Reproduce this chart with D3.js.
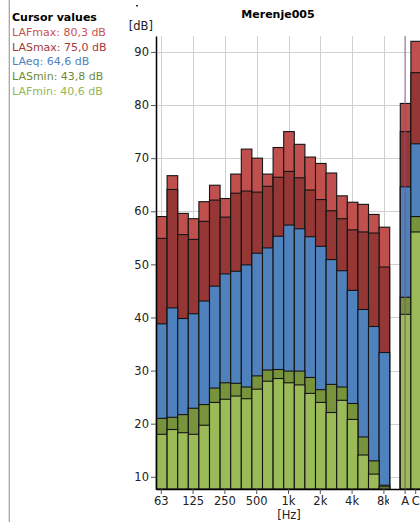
<!DOCTYPE html>
<html>
<head>
<meta charset="utf-8">
<script src="https://cdn.jsdelivr.net/npm/d3@7"></script>
<style>
  html, body { margin: 0; padding: 0; background: #fff; }
  svg { display: block; font-family: "DejaVu Sans", Verdana, sans-serif; }
</style>
</head>
<body>
<svg id="chart" width="420" height="522"></svg>
<script>
// Third-octave bands, then a spacer column and the A / C broadband levels
const bands = ["63","80","100","125","160","200","250","315","400","500","630","800",
               "1k","1.25k","1.6k","2k","2.5k","3.15k","4k","5k","6.3k","8k"];
const broadband = ["A", "C"];
const tickBands = ["63","125","250","500","1k","2k","4k","8k"];
const yTicks = [10, 20, 30, 40, 50, 60, 70, 80, 90];

// Levels in dB per band
const lafmax = [59.0,66.7,59.6,58.6,61.8,64.9,62.4,67.0,71.7,70.0,67.0,72.0,75.0,72.6,70.2,69.0,67.2,62.9,61.7,61.3,59.4,57.0];
const lasmax = [54.9,64.1,55.6,54.7,58.1,62.1,58.9,63.4,63.8,63.6,64.7,66.4,67.5,66.3,64.0,62.2,60.1,58.6,56.5,56.1,55.9,49.5];
const laeq   = [38.8,41.8,39.8,40.7,43.1,45.9,48.2,48.7,49.9,52.1,53.1,55.3,57.4,56.7,55.2,53.4,50.9,48.8,45.1,41.5,38.3,33.4];
const lasmin = [21.0,21.2,21.7,22.9,23.6,26.7,27.7,27.6,26.9,29.0,30.1,30.2,29.9,29.9,28.7,26.4,27.4,26.9,23.8,17.5,13.0,8.4];
const lafmin = [18.0,18.9,18.3,18.0,19.7,24.0,24.6,25.2,24.7,26.5,28.0,28.5,27.7,27.3,25.7,24.0,22.1,24.4,20.8,14.1,10.5,8.1];

// Broadband levels: A, C
const lafmaxBB = [80.3, 92.0];
const lasmaxBB = [75.0, 86.1];
const laeqBB   = [64.6, 72.7];
const lasminBB = [43.8, 59.0];
const lafminBB = [40.6, 56.1];

const seriesNames = ["LAFmax", "LASmax", "LAeq", "LASmin", "LAFmin"];
const seriesColors = ["#c0504d", "#953735", "#4f81bd", "#77933c", "#9bbb59"];
const textColors   = ["#c9514f", "#a33a38", "#4f81bd", "#6f8a38", "#93b755"];
const seriesBands = [lafmax, lasmax, laeq, lasmin, lafmin];
const seriesBB = [lafmaxBB, lasmaxBB, laeqBB, lasminBB, lafminBB];
const cursorBand = "A";

const svg = d3.select("#chart");

const plotLeft = 156, plotRight = 421, plotTop = 36, plotBottom = 489;
const bandAreaRight = 389;
const yMin = 7.7, yMax = 93;

const x = d3.scaleBand()
  .domain([...bands, " ", ...broadband])
  .range([plotLeft, plotRight])
  .padding(0);
const y = d3.scaleLinear().domain([yMin, yMax]).range([plotBottom, plotTop]);

// Grid
const grid = svg.append("g").attr("stroke", "#cfcfcf").attr("stroke-width", 1);
grid.selectAll("line.h").data(yTicks).join("line").attr("class", "h")
  .attr("x1", plotLeft).attr("x2", plotRight)
  .attr("y1", d => Math.round(y(d)) + 0.5).attr("y2", d => Math.round(y(d)) + 0.5);
grid.selectAll("line.v").data(tickBands).join("line").attr("class", "v")
  .attr("y1", plotTop).attr("y2", plotBottom)
  .attr("x1", d => Math.round(x(d) + x.bandwidth() / 2) + 0.5)
  .attr("x2", d => Math.round(x(d) + x.bandwidth() / 2) + 0.5);

// Bars: each level drawn from the floor, largest first
const bars = svg.append("g");
seriesNames.forEach((name, i) => {
  const rows = bands.map((b, j) => ({ band: b, v: seriesBands[i][j] }))
    .concat(broadband.map((b, j) => ({ band: b, v: seriesBB[i][j] })));
  bars.append("g")
    .attr("fill", seriesColors[i])
    .attr("stroke", "#141414")
    .attr("stroke-width", 1.1)
    .selectAll("rect").data(rows).join("rect")
    .attr("x", d => x(d.band) + 0.5)
    .attr("width", x.bandwidth())
    .attr("y", d => y(d.v))
    .attr("height", d => y(yMin) - y(d.v));
});

// Cursor line
svg.append("line")
  .attr("x1", x(cursorBand) + x.bandwidth() / 2).attr("x2", x(cursorBand) + x.bandwidth() / 2)
  .attr("y1", plotTop).attr("y2", plotBottom)
  .attr("stroke", "#8a4f86").attr("stroke-width", 1);

// Axes
const yAxis = svg.append("g")
  .attr("transform", `translate(${plotLeft},0)`)
  .call(d3.axisLeft(y).tickValues(yTicks).tickSize(5).tickSizeOuter(0).tickPadding(2));
yAxis.select(".domain").attr("stroke", "#000").attr("stroke-width", 1.5);
yAxis.selectAll(".tick line").attr("stroke", "#555");
yAxis.selectAll(".tick text").attr("font-size", 11.5).attr("fill", "#222")
  .attr("font-family", "DejaVu Sans, sans-serif");

const xAxis = svg.append("g")
  .attr("transform", `translate(0,${plotBottom})`)
  .call(d3.axisBottom(x).tickValues([...tickBands, ...broadband]).tickSize(5).tickSizeOuter(0).tickPadding(3));
xAxis.select(".domain").attr("stroke", "#000").attr("stroke-width", 1.5);
xAxis.selectAll(".tick line").attr("stroke", "#555");
xAxis.selectAll(".tick text").attr("font-size", 11.5).attr("fill", "#222")
  .attr("font-family", "DejaVu Sans, sans-serif");

// Band labels stay inside the band area
const defs = svg.append("defs");
xAxis.selectAll(".tick").filter(d => bands.includes(d)).each(function (d, k) {
  const tx = x(d) + x.bandwidth() / 2;
  const id = "bandclip" + k;
  defs.append("clipPath").attr("id", id)
    .append("rect").attr("x", -60).attr("y", -10).attr("width", bandAreaRight - tx + 60).attr("height", 40);
  d3.select(this).select("text").attr("clip-path", `url(#${id})`);
});

// Axis titles
svg.append("text").attr("x", 153).attr("y", 30).attr("text-anchor", "end")
  .attr("font-size", 11.5).attr("fill", "#222").text("[dB]");
svg.append("text").attr("x", 289).attr("y", 518.5).attr("text-anchor", "middle")
  .attr("font-size", 11.5).attr("fill", "#222").text("[Hz]");

// Title
svg.append("text").attr("x", 278).attr("y", 18).attr("text-anchor", "middle")
  .attr("font-size", 11).attr("font-weight", "bold").attr("fill", "#000").text("Merenje005");
svg.append("rect").attr("x", 136).attr("y", 5).attr("width", 2).attr("height", 1.5).attr("fill", "#333");

// Side panel with cursor readout
svg.append("line").attr("x1", 8.5).attr("x2", 8.5).attr("y1", 0).attr("y2", 522)
  .attr("stroke", "#e2e2e2").attr("stroke-width", 1);
svg.append("line").attr("x1", 9.5).attr("x2", 9.5).attr("y1", 0).attr("y2", 522)
  .attr("stroke", "#a8a8a8").attr("stroke-width", 1);
svg.append("text").attr("x", 12).attr("y", 21).attr("font-size", 11)
  .attr("font-weight", "bold").attr("fill", "#000").text("Cursor values");
const cursorIdx = broadband.indexOf(cursorBand);
svg.append("g").selectAll("text").data(seriesNames).join("text")
  .attr("x", 12)
  .attr("y", (d, i) => 36 + i * 14.7)
  .attr("font-size", 11)
  .attr("fill", (d, i) => textColors[i])
  .text((d, i) => `${d}: ${seriesBB[i][cursorIdx].toFixed(1).replace(".", ",")} dB`);
</script>
</body>
</html>
